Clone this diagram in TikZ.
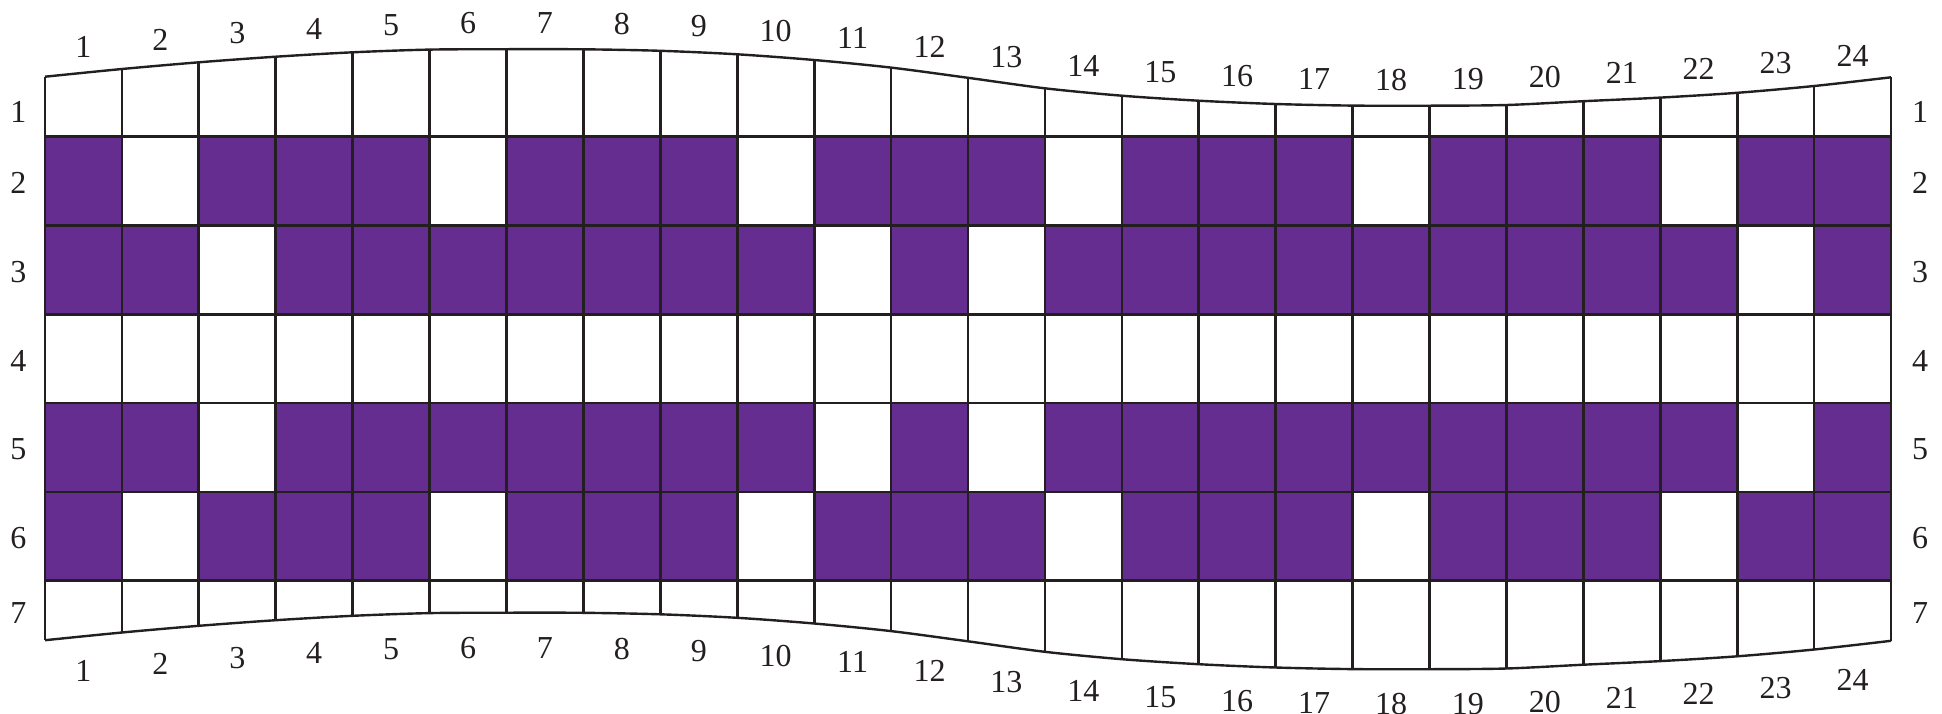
\documentclass[tikz,border=0pt]{standalone}
\usepackage{fontspec}
\setmainfont{Liberation Serif}
\usetikzlibrary{calc}
\definecolor{weftpurple}{HTML}{652D90}
\definecolor{inkblack}{HTML}{231F20}
\tikzset{
  gridline/.style = {draw=inkblack, line width=1.35pt},
  edgeline/.style = {draw=inkblack, line width=1.2pt, line join=round},
  cellfill/.style = {fill=weftpurple},
  cellgap/.style  = {fill=white},
  numlbl/.style   = {font=\fontsize{16}{19}\selectfont, text=inkblack, inner sep=0pt},
}

\begin{document}
\begin{tikzpicture}[x=0.5pt, y=-0.5pt]
  \useasboundingbox (0,0) rectangle (1942,713);
  \def\colw{76.917}
  \def\rowh{88.8}
  \def\xl{45}
  \def\ytop{136.7}
  \def\botshift{563.5}

  % edge points of the column lines
  \foreach \i/\y in {0/76.7, 1/69.0, 2/62.3, 3/56.7, 4/52.3, 5/49.6, 6/49.2,
      7/49.3, 8/50.8, 9/54.3, 10/60.0, 11/67.6, 12/77.8, 13/88.3, 14/95.7,
      15/100.7, 16/104.0, 17/105.6, 18/105.7, 19/105.0, 20/101.2, 21/97.6,
      22/92.8, 23/86.0, 24/77.3} {
    \coordinate (t\i) at ({\xl+\i*\colw},\y);
    \coordinate (b\i) at ({\xl+\i*\colw},{\y+\botshift});
  }

  % coloured rows 2, 3, 5, 6
  \foreach \r in {2,3,5,6}
    \fill[cellfill] (\xl,{\ytop+(\r-2)*\rowh}) rectangle ++({24*\colw},\rowh);
  \foreach \r in {2,6}
    \foreach \c in {2,6,...,22}
      \fill[cellgap] ({\xl+(\c-1)*\colw},{\ytop+(\r-2)*\rowh}) rectangle ++(\colw,\rowh);
  \foreach \r in {3,5}
    \foreach \c in {3,11,13,23}
      \fill[cellgap] ({\xl+(\c-1)*\colw},{\ytop+(\r-2)*\rowh}) rectangle ++(\colw,\rowh);

  % grid
  \foreach \k in {0,...,5}
    \draw[gridline] (\xl,{\ytop+\k*\rowh}) -- ++({24*\colw},0);
  \foreach \i in {0,...,24}
    \draw[gridline] (t\i) -- (b\i);
  \draw[edgeline] plot[smooth, tension=0.5] coordinates {(t0) (t1) (t2) (t3) (t4)
    (t5) (t6) (t7) (t8) (t9) (t10) (t11) (t12) (t13) (t14) (t15) (t16) (t17)
    (t18) (t19) (t20) (t21) (t22) (t23) (t24)};
  \draw[edgeline] plot[smooth, tension=0.5] coordinates {(b0) (b1) (b2) (b3) (b4)
    (b5) (b6) (b7) (b8) (b9) (b10) (b11) (b12) (b13) (b14) (b15) (b16) (b17)
    (b18) (b19) (b20) (b21) (b22) (b23) (b24)};

  % column numbers
  \foreach \j [count=\jm from 0] in {1,...,24} {
    \node[numlbl] (top\j) at ($(t\jm)!0.5!(t\j)+(0,-26)$) {\j};
    \node[numlbl] (bot\j) at ($(b\jm)!0.5!(b\j)+(0,35)$) {\j};
  }

  % row numbers
  \foreach \r/\y in {1/111.7, 2/183.1, 3/271.9, 4/360.7, 5/449.5, 6/538.3, 7/613.3} {
    \node[numlbl] (left\r) at (18.5,\y) {\r};
    \node[numlbl] (right\r) at (1920,\y) {\r};
  }
\end{tikzpicture}
\end{document}
